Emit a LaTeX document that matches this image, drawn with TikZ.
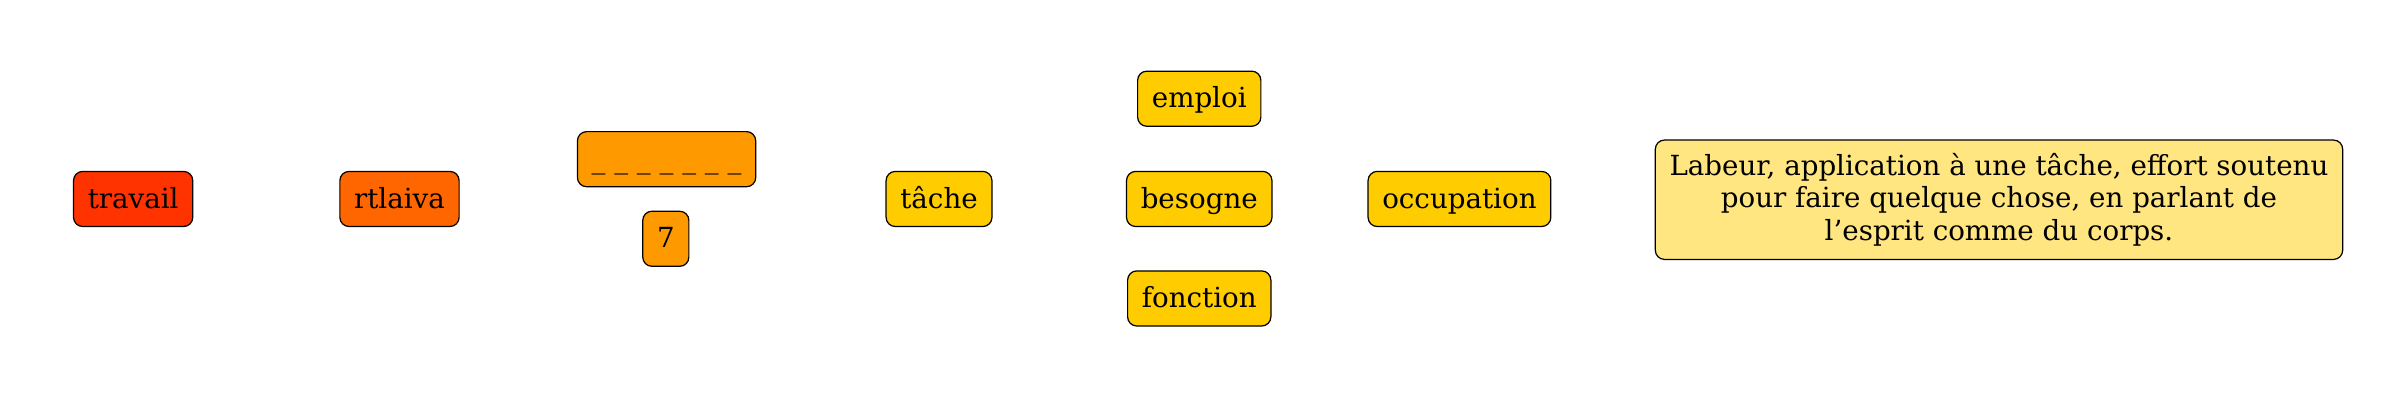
\documentclass[tikz,border=0pt]{standalone}
\usepackage{fontspec}
\setmainfont{DejaVu Serif}
\usepackage{tikz}

\definecolor{redword}{HTML}{FF3300}
\definecolor{orangeword}{HTML}{FF6600}
\definecolor{amberword}{HTML}{FF9900}
\definecolor{yellowword}{HTML}{FFCC00}
\definecolor{glossfill}{HTML}{FFE680}

\tikzset{
  wordbox/.style={draw, line width=0.8pt, rounded corners=6pt, fill=#1,
    minimum height=36pt, inner xsep=9.3pt, text height=15pt, text depth=3pt,
    font=\fontsize{18.1}{21.5}\selectfont},
  glossbox/.style={draw, line width=0.8pt, rounded corners=6pt, fill=glossfill,
    minimum height=78pt, inner xsep=9.3pt, align=center,
    font=\fontsize{18.1}{21.5}\selectfont}
}

\begin{document}
\begin{tikzpicture}[x=1pt, y=1pt]
    % Fix the canvas
    \useasboundingbox (0,0) rectangle (1568,261);

    % Head word and its scrambled form
    \node[wordbox=redword] (travail) at (87,131) {travail};
    \node[wordbox=orangeword] (rtlaiva) at (261,131) {rtlaiva};

    % Blanks and letter count
    \node[wordbox=amberword] (blanks) at (435.5,157) {\_ \_ \_ \_ \_ \_ \_};
    \node[wordbox=amberword] (count) at (435,105) {7};

    % Synonyms
    \node[wordbox=yellowword] (tache) at (613.5,131) {tâche};
    \node[wordbox=yellowword] (emploi) at (783.5,196.5) {emploi};
    \node[wordbox=yellowword] (besogne) at (783.5,131) {besogne};
    \node[wordbox=yellowword] (fonction) at (783.5,66) {fonction};
    \node[wordbox=yellowword] (occupation) at (953.5,131) {occupation};

    % Definition
    \node[glossbox] (gloss) at (1306,130.5) {Labeur, application à une tâche, effort soutenu\\
      pour faire quelque chose, en parlant de\\
      l’esprit comme du corps.};
\end{tikzpicture}
\end{document}
